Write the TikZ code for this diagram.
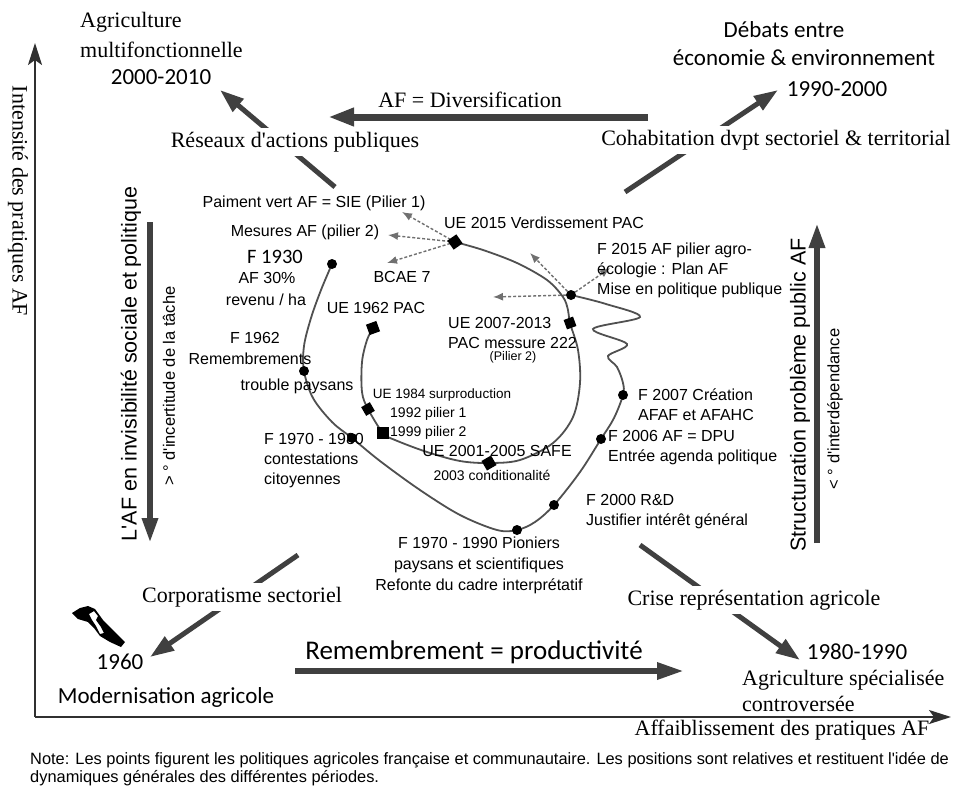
\documentclass[tikz,border=0pt]{standalone}
\usepackage{fontspec}
\setmainfont{Liberation Serif}
\setsansfont{Liberation Sans}
\newfontfamily\calibfont{Carlito}
\usetikzlibrary{arrows.meta}
\definecolor{arrowgray}{HTML}{404040}
\definecolor{curvegray}{HTML}{505050}
\definecolor{dashgray}{HTML}{707070}
\definecolor{axisgray}{HTML}{303030}
\newcommand{\sq}{\textquotesingle}
\tikzset{
 serif/.style={font=\rmfamily\fontsize{22}{27}\selectfont, inner sep=0pt},
 calib/.style={font=\calibfont\fontsize{23}{27}\selectfont, inner sep=0pt},
 lab/.style={font=\sffamily\fontsize{16}{20}\selectfont, inner sep=0pt},
 smalllab/.style={font=\sffamily\fontsize{14}{17}\selectfont, inner sep=0pt},
 sidelab/.style={font=\sffamily\fontsize{21.5}{25}\selectfont, inner sep=0pt, rotate=90},
 sidesmall/.style={font=\sffamily\fontsize{16.5}{20}\selectfont, inner sep=0pt, rotate=90},
 gap/.style={fill=white, inner sep=4pt},
 bigarrow/.style={draw=arrowgray, line width=5pt, -{Triangle[length=24pt,width=16pt]}},
 vertarrow/.style={draw=arrowgray, line width=6pt, -{Triangle[length=25pt,width=15pt]}},
 axisarrow/.style={draw=axisgray, line width=2pt, -{Stealth[length=22pt,width=14pt,inset=5pt]}},
 dasharrow/.style={draw=dashgray, line width=1.4pt, dash pattern=on 3pt off 2pt, -{Latex[length=10pt,width=8pt]}},
 curve/.style={draw=curvegray, line width=1.8pt},
 dot/.style={circle, fill=black, minimum size=10pt, inner sep=0pt},
 sqmark/.style={rectangle, fill=black, minimum size=11pt, inner sep=0pt},
}
\begin{document}
\begin{tikzpicture}[x=1pt,y=-1pt]
\useasboundingbox (0,0) rectangle (957,787);

% ---------- axes ----------
\coordinate (origin) at (35,717);
\coordinate (ytip) at (35,43);
\coordinate (xtip) at (951,717);
\draw[axisarrow] (origin) -- (ytip);
\draw[axisarrow] (origin) -- (xtip);
\node[serif, rotate=-90] (ylabel) at (18,201) {Intensité des pratiques AF};
\node[serif] (xlabel) at (782,730) {Affaiblissement des pratiques AF};

% ---------- big arrows ----------
\coordinate (divS) at (648,117); \coordinate (divE) at (328,117);
\draw[draw=arrowgray, line width=7pt, -{Triangle[length=26pt,width=17pt]}] (divS) -- (divE);
\node[serif] (div) at (470,100) {AF = Diversification};

\coordinate (remS) at (295,671); \coordinate (remE) at (684,671);
\draw[draw=arrowgray, line width=6pt, -{Triangle[length=27pt,width=16pt]}] (remS) -- (remE);
\node[calib, font=\calibfont\fontsize{27}{30}\selectfont] (rem) at (474,652) {Remembrement = productivité};

\coordinate (nwS) at (335,187); \coordinate (nwE) at (220,90);
\draw[bigarrow] (nwS) -- (nwE);
\node[serif, gap] (reseaux) at (295,142) {Réseaux d\sq actions publiques};

\coordinate (neS) at (625,192); \coordinate (neE) at (778,90);
\draw[bigarrow] (neS) -- (neE);
\node[serif, gap] (cohab) at (776,140) {Cohabitation dvpt sectoriel \& territorial};

\coordinate (swS) at (298,555); \coordinate (swE) at (150,657);
\draw[bigarrow] (swS) -- (swE);
\node[serif, gap] (corpo) at (242,597) {Corporatisme sectoriel};

\coordinate (seS) at (640,545); \coordinate (seE) at (800,660);
\draw[bigarrow] (seS) -- (seE);
\node[serif, gap] (crise) at (754,600) {Crise représentation agricole};

% side arrows
\coordinate (lS) at (150,222); \coordinate (lE) at (150,543);
\draw[vertarrow] (lS) -- (lE);
\coordinate (rS) at (817,543); \coordinate (rE) at (817,223);
\draw[vertarrow] (rS) -- (rE);
\node[sidelab] (linvis) at (131,364) {L\sq AF en invisibilité sociale et politique};
\node[sidesmall] (lincert) at (169,386) {> ° d\sq incertitude de la tâche};
\node[sidelab] (rstruct) at (800,395) {Structuration problème public AF};
\node[sidesmall] (rinter) at (835,409) {< ° d\sq interdépendance};

% ---------- corner texts ----------
\node[serif, anchor=west] (agri1) at (80,22) {Agriculture};
\node[serif, anchor=west] (agri2) at (80,50) {multifonctionnelle};
\node[calib] (agri3) at (161,77) {2000-2010};
\node[calib] (deb1) at (784,30) {Débats entre};
\node[calib] (deb2) at (804,58) {économie \& environnement};
\node[calib] (deb3) at (837,89) {1990-2000};
\node[calib] (y1960) at (120,662) {1960};
\node[calib] (modern) at (166,697) {Modernisation agricole};
\node[calib] (y1980) at (857,652) {1980-1990};
\node[serif, anchor=west] (spec1) at (742,680) {Agriculture spécialisée};
\node[serif, anchor=west] (spec2) at (742,704) {controversée};

% lightning mark
\fill[black, even odd rule] (72,613) -- (80,608) -- (88,606) -- (95,609) -- (103,620) -- (110,627) -- (118,635) -- (125,642) -- (121,647) -- (110,642) -- (100,636) -- (94,628) -- (88,622) -- (78,619) -- cycle
  (89,614) -- (94,611) -- (98,616) -- (96,620) -- (101,627) -- (104,633) -- (100,634) -- (96,626) -- (92,620) -- cycle;

% ---------- spiral ----------
\coordinate (c1930) at (332,264);
\coordinate (c1962) at (304,371);
\coordinate (c1970) at (352,438);
\coordinate (c1990) at (517,530);
\coordinate (c2000) at (554,505);
\coordinate (c2006) at (601,439);
\coordinate (c2007) at (623,395);
\coordinate (c2015) at (571,295);
\coordinate (u1962) at (373,328);
\coordinate (u1984) at (368,409);
\coordinate (u1992) at (383,433);
\coordinate (u2001) at (489,463);
\coordinate (u2007) at (570,323);
\coordinate (u2015) at (455,242);

\draw[curve] plot[smooth, tension=0.55] coordinates {(c1930) (321,290) (311,318) (304,346) (c1962) (313,398) (332,422) (c1970) (380,461) (420,490) (460,515) (497,530) (c1990) (535,522) (c2000) (580,472) (c2006) (614,418) (c2007) (623,383) (617,367) (608,356) (627,344) (593,329) (640,317) (606,304) (c2015)};
\draw[curve] plot[smooth, tension=0.55] coordinates {(u1962) (367,340) (362,362) (362,392) (u1984) (u1992) (395,440) (427,452) (460,461) (u2001) (520,460) (553,443) (573,417) (580,383) (578,350) (u2007) (568,310) (563,297) (547,280) (517,263) (483,250) (u2015)};

% dashed arrows
\coordinate (tPai) at (402,212);
\coordinate (tMes) at (388,235);
\coordinate (tBcae) at (387,263);
\coordinate (tUp) at (530,253);
\coordinate (tLeft) at (493,297);
\coordinate (tRight) at (610,268);
\draw[dasharrow] (u2015) -- (tPai);
\draw[dasharrow] (u2015) -- (tMes);
\draw[dasharrow] (u2015) -- (tBcae);
\draw[dasharrow] (c2015) -- (tUp);
\draw[dasharrow] (c2015) -- (tLeft);
\draw[dasharrow] (c2015) -- (tRight);

% markers
\node[dot] (d1930) at (c1930) {};
\node[dot] (d1962) at (c1962) {};
\node[dot] (d1970) at (c1970) {};
\node[dot] (d1990) at (c1990) {};
\node[dot] (d2000) at (c2000) {};
\node[dot] (d2006) at (c2006) {};
\node[dot] (d2007) at (c2007) {};
\node[dot] (d2015) at (c2015) {};
\node[sqmark, rotate=20] (s1962) at (u1962) {};
\node[sqmark, rotate=30, minimum size=10pt] (s1984) at (u1984) {};
\node[sqmark, minimum size=12pt] (s1992) at (u1992) {};
\node[sqmark, rotate=30] (s2001) at (u2001) {};
\node[sqmark, rotate=20, minimum size=10pt] (s2007) at (u2007) {};
\node[sqmark, rotate=35] (s2015) at (u2015) {};

% spiral labels
\node[lab] (lPai) at (314,203) {Paiment vert AF = SIE (Pilier 1)};
\node[lab] (lMes) at (305,232) {Mesures AF (pilier 2)};
\node[lab] (lUE2015) at (544,223) {UE 2015 Verdissement PAC};
\node[calib, font=\calibfont\fontsize{20.5}{24}\selectfont] (lF1930) at (275,257) {F 1930};
\node[lab] (lAF30) at (267,278) {AF 30\%};
\node[lab] (lRev) at (266,300) {revenu / ha};
\node[lab] (lBcae) at (402,277) {BCAE 7};
\node[lab] (lUE1962) at (376,308) {UE 1962 PAC};
\node[lab, anchor=west] (lUE0713) at (448,323) {UE 2007-2013};
\node[lab, anchor=west] (lPAC) at (448,343) {PAC messure 222};
\node[font=\sffamily\fontsize{12.5}{15}\selectfont, inner sep=0pt] (lPil2) at (513,357) {(Pilier 2)};
\node[lab, anchor=west, align=left] (lF2015) at (597,270) {F 2015 AF pilier agro-\\écologie : Plan AF\\Mise en politique publique};
\node[lab] (lF1962) at (255,338) {F 1962};
\node[lab] (lRemem) at (250,359) {Remembrements};
\node[lab] (lTrouble) at (297,386) {trouble paysans};
\node[font=\sffamily\fontsize{13.5}{16}\selectfont, inner sep=0pt] (lUE1984) at (442,395) {UE 1984 surproduction};
\node[smalllab, anchor=west] (l1992) at (390,414) {1992 pilier 1};
\node[smalllab, anchor=west] (l1999) at (390,433) {1999 pilier 2};
\node[lab] (lUE2001) at (497,451) {UE 2001-2005 SAFE};
\node[smalllab] (l2003) at (492,475) {2003 conditionalité};
\node[lab, anchor=west, align=left] (lF1970) at (264,461) {F 1970 - 1980\\contestations\\citoyennes};
\node[lab, align=center, font=\sffamily\fontsize{16}{21}\selectfont] (lPion) at (479,565) {F 1970 - 1990 Pioniers\\paysans et scientifiques\\Refonte du cadre interprétatif};
\node[lab, anchor=west, align=left] (lF2000) at (586,512) {F 2000 R\&D\\Justifier intérêt général};
\node[lab, anchor=west, align=left] (lF2006) at (608,448) {F 2006 AF = DPU\\Entrée agenda politique};
\node[lab, anchor=west, align=left] (lF2007) at (638,405) {F 2007 Création\\AFAF et AFAHC};

% note
\node[font=\sffamily\fontsize{16.4}{18}\selectfont, inner sep=0pt, anchor=west] (note1) at (30,760) {Note: Les points figurent les politiques agricoles française et communautaire. Les positions sont relatives et restituent l\sq idée de};
\node[font=\sffamily\fontsize{16.4}{18}\selectfont, inner sep=0pt, anchor=west] (note2) at (30,778) {dynamiques générales des différentes périodes.};
\end{tikzpicture}
\end{document}
